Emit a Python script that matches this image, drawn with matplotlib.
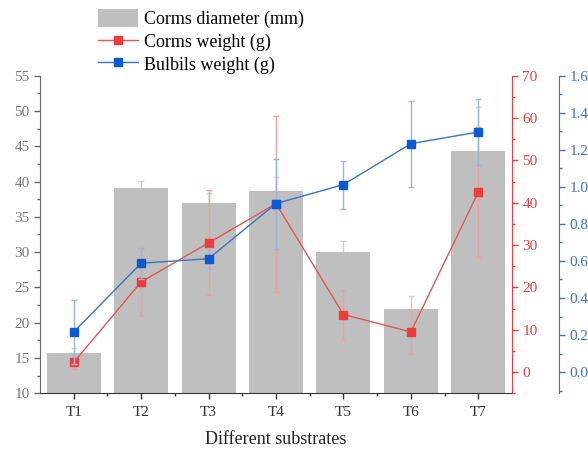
import matplotlib
matplotlib.use("Agg")
import matplotlib.pyplot as plt
from matplotlib.ticker import MultipleLocator
from matplotlib.patches import Patch
from matplotlib.lines import Line2D

plt.rcParams['font.family'] = ['Liberation Serif', 'DejaVu Serif']

categories = ["T1", "T2", "T3", "T4", "T5", "T6", "T7"]
diameter = [15.7, 39.05, 37.0, 38.6, 30.0, 22.0, 44.35]
diameter_err = [0.7, 1.05, 1.4, 2.1, 1.6, 1.8, 6.2]
corm_weight = [2.3, 21.3, 30.5, 39.8, 13.6, 9.5, 42.5]
corm_weight_err = [1.5, 7.9, 12.4, 20.8, 5.9, 5.2, 15.3]
bulbil_weight = [0.217, 0.588, 0.612, 0.91, 1.012, 1.233, 1.296]
bulbil_weight_err = [0.175, 0.083, 0.057, 0.243, 0.13, 0.232, 0.18]

RED = '#ee3b3b'
RED_LINE = '#e25656'
RED_ERR = '#eea0a0'
BLUE = '#0c5ad2'
BLUE_LINE = '#3a74c4'
BLUE_ERR = '#9ab6dc'
BAR = '#bfbfbf'
BAR_ERR = '#d0d0d0'

fig = plt.figure(figsize=(5.88, 4.5), dpi=100)
ax = fig.add_axes([40/588, 1-393.3/450, 472/588, (393.3-75.7)/450])
x = list(range(1, len(categories)+1))

ax.errorbar(x, diameter, yerr=diameter_err, fmt='none', ecolor=BAR_ERR,
            elinewidth=1.0, capsize=2.3, capthick=1.0, zorder=1)
ax.bar(x, diameter, width=0.8, color=BAR, zorder=2)
ax.set_xlim(0.5, 7.5)
ax.set_ylim(10, 55)
ax.yaxis.set_major_locator(MultipleLocator(5))
ax.yaxis.set_minor_locator(MultipleLocator(2.5))
ax.set_xticks(x)
ax.set_xticklabels(categories)
ax.set_xticks([i + 0.5 for i in range(1, 7)], minor=True)
ax.spines['top'].set_visible(False)
ax.spines['right'].set_visible(False)
ax.spines['left'].set_color('#666666')
ax.spines['bottom'].set_color('#333333')
ax.tick_params(axis='y', which='both', colors='#666666', labelsize=11)
ax.tick_params(axis='y', labelcolor='#777777')
ax.tick_params(axis='x', which='both', colors='#333333', labelsize=11)
ax.tick_params(axis='x', which='major', pad=5)
ax.tick_params(which='major', length=4, width=1)
ax.tick_params(which='minor', length=2.2, width=1)
ax.set_xlabel("Different substrates", fontsize=13, color='#222222', labelpad=9)

ax2 = ax.twinx()
ax2.errorbar(x, corm_weight, yerr=corm_weight_err, fmt='none', ecolor=RED_ERR,
             elinewidth=1.0, capsize=2.3, capthick=1.0, zorder=1)
ax2.plot(x, corm_weight, color=RED_LINE, lw=1.0, marker='s', markersize=6,
         markerfacecolor=RED, markeredgecolor=RED, zorder=2)
ax2.set_ylim(-5, 70)
ax2.yaxis.set_major_locator(MultipleLocator(10))
ax2.yaxis.set_minor_locator(MultipleLocator(5))
for s in ['top', 'left', 'bottom']:
    ax2.spines[s].set_visible(False)
ax2.spines['right'].set_color(RED)
ax2.tick_params(axis='y', which='both', colors=RED, labelsize=11)
ax2.tick_params(which='major', length=4, width=1)
ax2.tick_params(which='minor', length=2.2, width=1)

ax3 = ax.twinx()
ax3.spines['right'].set_position(('axes', 1.1))
ax3.errorbar(x, bulbil_weight, yerr=bulbil_weight_err, fmt='none', ecolor=BLUE_ERR,
             elinewidth=1.0, capsize=2.3, capthick=1.0, zorder=1)
ax3.plot(x, bulbil_weight, color=BLUE_LINE, lw=1.0, marker='s', markersize=6,
         markerfacecolor=BLUE, markeredgecolor=BLUE, zorder=2)
ax3.set_ylim(-0.1143, 1.6)
ax3.yaxis.set_major_locator(MultipleLocator(0.2))
ax3.yaxis.set_minor_locator(MultipleLocator(0.1))
ax3.yaxis.set_major_formatter(matplotlib.ticker.FormatStrFormatter('%.1f'))
for s in ['top', 'left', 'bottom']:
    ax3.spines[s].set_visible(False)
ax3.spines['right'].set_color(BLUE_LINE)
ax3.tick_params(axis='y', which='both', colors=BLUE_LINE, labelsize=11)
ax3.tick_params(which='major', length=4, width=1)
ax3.tick_params(which='minor', length=2.2, width=1)

handles = [
    Patch(facecolor=BAR, edgecolor='none', label='Corms diameter (mm)'),
    Line2D([], [], color=RED_LINE, lw=1.0, marker='s', markersize=6,
           markerfacecolor=RED, markeredgecolor=RED, label='Corms weight (g)'),
    Line2D([], [], color=BLUE_LINE, lw=1.0, marker='s', markersize=6,
           markerfacecolor=BLUE, markeredgecolor=BLUE, label='Bulbils weight (g)'),
]
fig.legend(handles=handles, loc='upper left', bbox_to_anchor=(93/588, 1-4/450),
           frameon=False, fontsize=13, handlelength=2.2, handleheight=1.1,
           handletextpad=0.3, labelspacing=0.22, numpoints=1,
           borderaxespad=0, borderpad=0.3)

fig.savefig("out.png", dpi=100)
